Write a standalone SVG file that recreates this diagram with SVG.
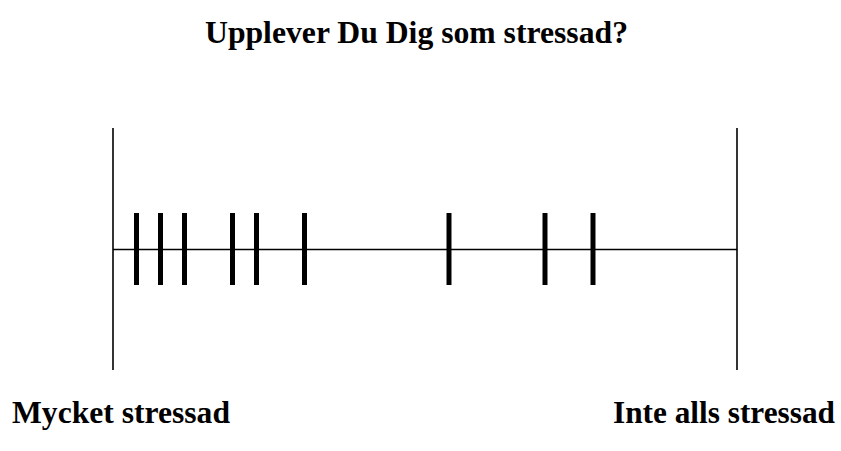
<svg xmlns="http://www.w3.org/2000/svg" width="841" height="451" viewBox="0 0 841 451">
<style>
.t{font-family:"Liberation Serif","Times New Roman",serif;font-weight:bold;fill:#000;font-size:31.5px}
.axis{stroke:#000;stroke-width:1.6;fill:none}
.tick{stroke:#000;stroke-width:5;fill:none}
</style>
<rect width="841" height="451" fill="#fff"/>
<g id="title"><text class="t" x="205" y="43" textLength="423" lengthAdjust="spacingAndGlyphs">Upplever Du Dig som stressad?</text></g>
<g id="scale">
<line class="axis" x1="113" y1="128" x2="113" y2="370"/>
<line class="axis" x1="737" y1="128" x2="737" y2="370"/>
<line class="axis" x1="113" y1="249.5" x2="737" y2="249.5"/>
</g>
<g id="ticks">
<line class="tick" x1="136.5" y1="213" x2="136.5" y2="285"/>
<line class="tick" x1="160.5" y1="213" x2="160.5" y2="285"/>
<line class="tick" x1="184.5" y1="213" x2="184.5" y2="285"/>
<line class="tick" x1="232.5" y1="213" x2="232.5" y2="285"/>
<line class="tick" x1="256.5" y1="213" x2="256.5" y2="285"/>
<line class="tick" x1="304.5" y1="213" x2="304.5" y2="285"/>
<line class="tick" x1="449" y1="213" x2="449" y2="285"/>
<line class="tick" x1="545" y1="213" x2="545" y2="285"/>
<line class="tick" x1="593" y1="213" x2="593" y2="285"/>
</g>
<g id="label-left"><text class="t" x="12" y="423" textLength="218" lengthAdjust="spacingAndGlyphs">Mycket stressad</text></g>
<g id="label-right"><text class="t" x="613" y="423" textLength="222" lengthAdjust="spacingAndGlyphs">Inte alls stressad</text></g>
</svg>
